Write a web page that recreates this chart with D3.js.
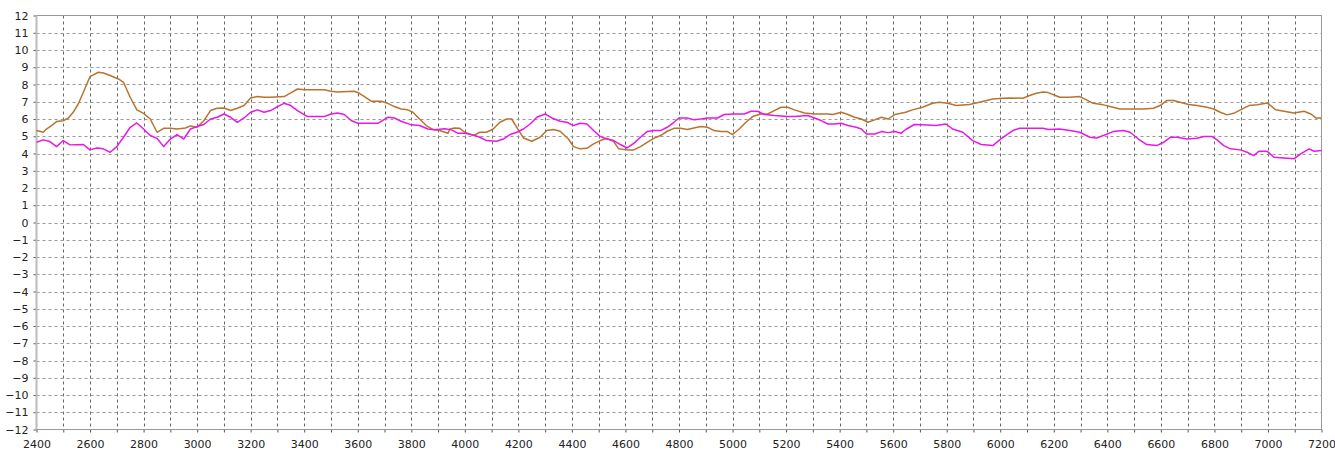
<!DOCTYPE html>
<html>
<head>
<meta charset="utf-8">
<script src="https://cdn.jsdelivr.net/npm/d3@7"></script>
<style>
	body { margin: 0; background: #fff; }
	text { font-family: "DejaVu Sans", Verdana, sans-serif; font-size: 11px; fill: #222; }
</style>
</head>
<body>
<div id="svg"></div>
<script>
var width = 1335;
var height = 450;

var x_ticks = d3.range(2400, 7201, 200);
var y_ticks = d3.range(-12, 13, 1);

// brown series
var brown_x = [2400, 2425, 2437, 2456, 2475, 2500, 2519, 2537, 2556, 2575, 2600, 2631, 2650, 2675, 2706, 2725, 2750, 2775, 2800, 2825, 2850, 2875, 2900, 2925, 2956, 2975, 3000, 3025, 3050, 3075, 3100, 3125, 3150, 3175, 3200, 3225, 3250, 3275, 3325, 3350, 3375, 3400, 3450, 3475, 3500, 3525, 3562, 3587, 3606, 3625, 3650, 3687, 3712, 3737, 3762, 3787, 3806, 3831, 3856, 3881, 3906, 3937, 3944, 3962, 3981, 4000,
	4031, 4056, 4081, 4106, 4131, 4156, 4175, 4194, 4219, 4250, 4281, 4306, 4331, 4356, 4387, 4406, 4431, 4456, 4481, 4506, 4531, 4556, 4575, 4606, 4631, 4656, 4681, 4706, 4731, 4756, 4781, 4806, 4831, 4856, 4881, 4906, 4931, 4956, 4981, 5000, 5025, 5050, 5075, 5106, 5131, 5156, 5181, 5206, 5231, 5269, 5306, 5356, 5375, 5406, 5431, 5456, 5481, 5506, 5531, 5556, 5581, 5606, 5629,
	5647, 5672, 5710, 5747, 5772, 5804, 5835, 5885, 5922, 5972, 6010, 6035, 6085, 6110, 6135, 6160, 6179, 6204, 6222, 6260, 6297, 6322, 6347, 6385, 6410, 6447, 6485, 6535, 6572, 6597, 6622, 6647, 6672, 6704, 6735, 6772, 6797, 6822, 6847, 6872, 6897, 6929, 6960, 6997, 7010, 7029, 7060, 7097, 7135, 7160, 7179, 7200];
var brown_y = [5.33, 5.23, 5.42, 5.62, 5.85, 5.9, 6.06, 6.39, 6.87, 7.55, 8.46, 8.71, 8.67, 8.52, 8.32, 8.13, 7.26, 6.53, 6.33, 6.0, 5.23, 5.46, 5.46, 5.42, 5.48, 5.6, 5.52, 5.9, 6.49, 6.62, 6.64, 6.49, 6.62, 6.78, 7.22, 7.3, 7.26, 7.26, 7.3, 7.51, 7.74, 7.69, 7.69, 7.69, 7.61, 7.57, 7.59, 7.61, 7.49, 7.3, 7.03, 7.03, 6.91, 6.72, 6.58, 6.53, 6.39, 6.0, 5.62, 5.39, 5.33, 5.17, 5.42, 5.48, 5.46, 5.23,
	5.04, 5.23, 5.23, 5.42, 5.81, 6.0, 6.0, 5.52, 4.9, 4.71, 4.94, 5.33, 5.39, 5.29, 4.84, 4.4, 4.27, 4.3, 4.56, 4.75, 4.88, 4.69, 4.27, 4.21, 4.21, 4.4, 4.65, 4.88, 5.04, 5.29, 5.46, 5.46, 5.39, 5.48, 5.56, 5.52, 5.33, 5.27, 5.27, 5.1, 5.42, 5.81, 6.14, 6.29, 6.29, 6.49, 6.68, 6.68, 6.53, 6.35, 6.29, 6.29, 6.26, 6.39, 6.26, 6.1, 6.0, 5.81, 5.95, 6.1, 6.0, 6.26, 6.33,
	6.39, 6.53, 6.68, 6.91, 6.97, 6.91, 6.78, 6.84, 6.97, 7.16, 7.2, 7.22, 7.2, 7.36, 7.49, 7.57, 7.53, 7.38, 7.26, 7.26, 7.3, 7.11, 6.91, 6.82, 6.72, 6.58, 6.58, 6.58, 6.62, 6.78, 7.07, 7.07, 6.97, 6.84, 6.78, 6.68, 6.58, 6.39, 6.24, 6.33, 6.53, 6.78, 6.82, 6.93, 6.78, 6.53, 6.45, 6.35, 6.45, 6.29, 6.06, 6.06];

// magenta series
var magenta_x = [2400, 2425, 2450, 2475, 2500, 2525, 2575, 2600, 2625, 2650, 2675, 2700, 2725, 2750, 2775, 2800, 2825, 2850, 2875, 2900, 2925, 2950, 2975, 3000, 3025, 3050, 3075, 3100, 3125, 3150, 3175, 3200, 3225, 3250, 3275, 3300, 3325, 3350, 3375, 3412, 3475, 3500, 3525, 3550, 3575, 3600, 3625, 3675, 3712, 3737, 3762, 3800, 3831, 3862, 3887, 3925, 3950, 3975, 4000,
	4031, 4056, 4081, 4119, 4144, 4169, 4194, 4219, 4244, 4269, 4300, 4325, 4356, 4381, 4406, 4431, 4456, 4481, 4506, 4531, 4556, 4581, 4606, 4631, 4656, 4681, 4706, 4731, 4756, 4781, 4800, 4831, 4856, 4881, 4906, 4944, 4969, 5006, 5044, 5069, 5094, 5119, 5156, 5206, 5231, 5281, 5306, 5331, 5356, 5381, 5406, 5431, 5462, 5481, 5500, 5531, 5556, 5581, 5606, 5629,
	5647, 5679, 5710, 5760, 5797, 5822, 5860, 5897, 5929, 5972, 6010, 6047, 6072, 6122, 6160, 6179, 6222, 6260, 6297, 6335, 6360, 6385, 6422, 6460, 6485, 6516, 6547, 6585, 6610, 6635, 6660, 6697, 6735, 6760, 6791, 6810, 6835, 6860, 6897, 6922, 6947, 6966, 6997, 7022, 7060, 7097, 7122, 7154, 7172, 7200];
var magenta_y = [4.65, 4.79, 4.69, 4.4, 4.75, 4.5, 4.52, 4.21, 4.32, 4.27, 4.07, 4.4, 4.94, 5.52, 5.77, 5.42, 5.04, 4.88, 4.4, 4.84, 5.1, 4.84, 5.42, 5.56, 5.68, 6.0, 6.1, 6.29, 6.1, 5.81, 6.06, 6.39, 6.53, 6.39, 6.49, 6.72, 6.91, 6.78, 6.49, 6.14, 6.14, 6.29, 6.35, 6.26, 5.91, 5.75, 5.75, 5.75, 6.1, 6.06, 5.87, 5.66, 5.62, 5.42, 5.37, 5.44, 5.37, 5.17, 5.17,
	5.08, 4.94, 4.75, 4.71, 4.84, 5.1, 5.23, 5.42, 5.71, 6.1, 6.29, 6.06, 5.87, 5.81, 5.62, 5.75, 5.71, 5.33, 4.98, 4.84, 4.75, 4.52, 4.32, 4.59, 4.94, 5.27, 5.33, 5.33, 5.52, 5.81, 6.06, 6.06, 5.95, 6.0, 6.06, 6.06, 6.26, 6.29, 6.29, 6.45, 6.45, 6.26, 6.2, 6.14, 6.14, 6.2, 6.06, 5.91, 5.71, 5.71, 5.75, 5.62, 5.52, 5.42, 5.13, 5.13, 5.27, 5.21, 5.27, 5.17,
	5.39, 5.68, 5.66, 5.62, 5.71, 5.42, 5.23, 4.75, 4.52, 4.46, 4.94, 5.33, 5.46, 5.46, 5.46, 5.39, 5.42, 5.33, 5.23, 4.94, 4.9, 5.04, 5.27, 5.33, 5.23, 4.84, 4.52, 4.46, 4.65, 4.94, 4.94, 4.84, 4.88, 4.98, 4.98, 4.79, 4.46, 4.27, 4.21, 4.07, 3.88, 4.13, 4.13, 3.78, 3.74, 3.69, 3.98, 4.27, 4.13, 4.17];

var canvas = d3.select('#svg')
	.append('svg')
	.attr('width', width)
	.attr('height', height);

function main()
{ // main()
	var x = d3.scaleLinear()
		.domain([2400, 7200])
		.range([36.5, 1321.5]);

	var y = d3.scaleLinear()
		.domain([-12, 12])
		.range([429.5, 15.5]);

	draw_grid(x, y);
	draw_axes(x, y);
	draw_line(x, y, brown_x, brown_y, '#b8732f');
	draw_line(x, y, magenta_x, magenta_y, '#e619e6');
}// End main

function draw_grid(x, y)
{ // dashed grid lines, one per 100 and one per unit
	var grid = canvas.append('g');

	grid.selectAll('.vgrid')
		.data(d3.range(2500, 7200, 100))
		.enter().append('line')
			.attr('x1', (d) => Math.round(x(d)) + 0.5)
			.attr('x2', (d) => Math.round(x(d)) + 0.5)
			.attr('y1', y(12))
			.attr('y2', y(-12))
			.attr('stroke', '#666')
			.attr('stroke-dasharray', '3,3');

	grid.selectAll('.hgrid')
		.data(d3.range(-11, 12, 1))
		.enter().append('line')
			.attr('x1', x(2400))
			.attr('x2', x(7200))
			.attr('y1', (d) => Math.round(y(d)) + 0.5)
			.attr('y2', (d) => Math.round(y(d)) + 0.5)
			.attr('stroke', '#999')
			.attr('stroke-dasharray', '3,3');
}// End draw_grid

function draw_axes(x, y)
{ // bottom and left axes plus the frame
	var bottom = canvas.append('g')
		.attr('transform', 'translate(0,' + y(-12) + ')')
		.call(d3.axisBottom(x).tickValues(d3.range(2400, 7201, 100)).tickSize(3).tickFormat((d) => x_ticks.indexOf(d) >= 0 ? d : ''));
	bottom.select('.domain').remove();
	bottom.selectAll('line').attr('stroke', '#555');
	bottom.selectAll('text').attr('dy', '1.15em');

	var left = canvas.append('g')
		.attr('transform', 'translate(' + x(2400) + ',0)')
		.call(d3.axisLeft(y).tickValues(y_ticks).tickSize(3).tickFormat(d3.format('d')));
	left.select('.domain').remove();
	left.selectAll('line').attr('stroke', '#555');
	left.selectAll('text').attr('x', -8);
	left.selectAll('text').style('font-family', '"DejaVu Sans", Verdana, sans-serif').style('font-size', '11px').style('fill', '#222');
	bottom.selectAll('text').style('font-family', '"DejaVu Sans", Verdana, sans-serif').style('font-size', '11px').style('fill', '#222');

	canvas.append('rect')
		.attr('x', x(2400))
		.attr('y', y(12))
		.attr('width', x(7200) - x(2400))
		.attr('height', y(-12) - y(12))
		.attr('fill', 'none')
		.attr('stroke', '#999');

	canvas.append('line')
		.attr('x1', x(2400))
		.attr('x2', x(2400))
		.attr('y1', y(12))
		.attr('y2', y(-12))
		.attr('stroke', '#bbb')
		.attr('stroke-width', 2);
}// End draw_axes

function draw_line(x, y, xs, ys, color)
{ // one series as a plain polyline
	var data = d3.zip(xs, ys);
	var line = d3.line()
		.x((d) => x(d[0]))
		.y((d) => y(d[1]));

	canvas.append('path')
		.attr('d', line(data))
		.attr('fill', 'none')
		.attr('stroke', color)
		.attr('stroke-width', 1.5)
		.attr('stroke-linejoin', 'round');
}// End draw_line

main();
</script>
</body>
</html>
